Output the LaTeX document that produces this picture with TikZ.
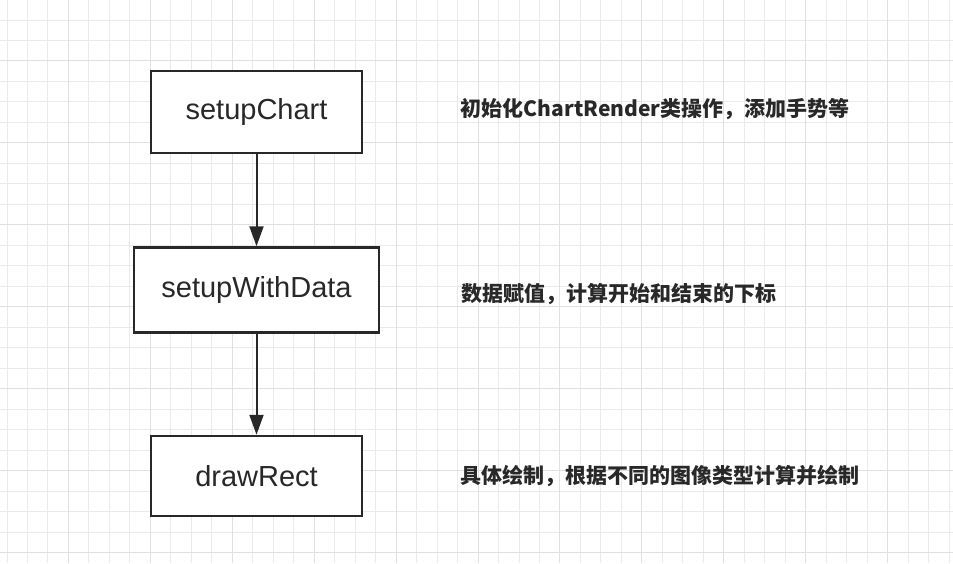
\documentclass[tikz,border=0pt]{standalone}
\usepackage{fontspec}
\setmainfont{Liberation Sans}
\newfontfamily\cjk{Noto Sans CJK SC}
\usetikzlibrary{arrows.meta,positioning}
\definecolor{gridminor}{RGB}{234,234,234}
\definecolor{gridmajor}{RGB}{224,224,224}
\definecolor{inkgray}{RGB}{40,40,40}
\tikzset{
  block/.style={draw=inkgray,line width=2.5pt,fill=white,align=center,minimum width=211pt,
    minimum height=82pt,font=\fontsize{29}{34}\selectfont,text=inkgray},
  note/.style={font=\cjk\bfseries\fontsize{21}{26}\selectfont,text=inkgray},
  arrow/.style={-{Triangle[length=20pt,width=14pt]},line width=2pt,draw=inkgray}
}

\begin{document}
\begin{tikzpicture}[x=1pt,y=-1pt]
  \useasboundingbox (0,0) rectangle (953,563);
  % grid
  \foreach \i in {0,...,46}
    \draw[gridminor,line width=1pt] ({7+20.48*\i},0) -- ({7+20.48*\i},563);
  \foreach \i in {0,...,26}
    \draw[gridminor,line width=1pt] (0,{20+20.48*\i}) -- (953,{20+20.48*\i});
  \foreach \i in {3,7,...,43}
    \draw[gridmajor,line width=1pt] ({7+20.48*\i},0) -- ({7+20.48*\i},563);
  \foreach \i in {2,6,...,26}
    \draw[gridmajor,line width=1pt] (0,{20+20.48*\i}) -- (953,{20+20.48*\i});

  \node[block] (chart) at (256.5,112) {setupChart};
  \node[block,minimum width=245pt,minimum height=85pt,below=92pt of chart] (data) {setupWithData};
  \node[block,minimum height=80pt,below=101pt of data] (rect) {drawRect};

  \node[note,right=94pt of chart,yshift=3pt] (chartnote) {初始化ChartRender类操作，添加手势等};
  \node[note,right=78pt of data,yshift=-4pt] (datanote) {数据赋值，计算开始和结束的下标};
  \node[note,right=94pt of rect] (rectnote) {具体绘制，根据不同的图像类型计算并绘制};

  \draw[arrow] (chart) -- (data);
  \draw[arrow] (data) -- (rect);
\end{tikzpicture}
\end{document}
